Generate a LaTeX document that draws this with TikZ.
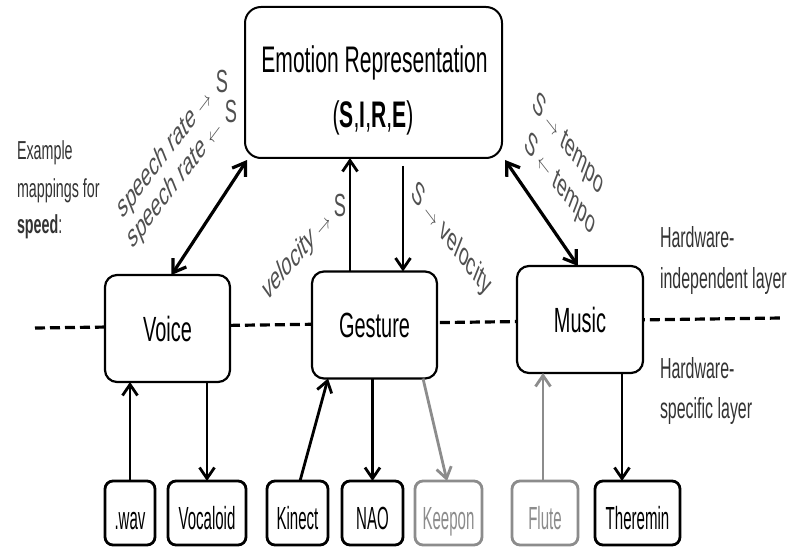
\documentclass[tikz,border=0pt]{standalone}
\usepackage{fontspec}
\setmainfont[FakeStretch=0.57]{Liberation Sans}
\newfontfamily\rotfont{Liberation Sans}
\newfontfamily\botfont[FakeStretch=0.47]{Liberation Sans}
\newfontfamily\notefont[FakeStretch=0.55]{Liberation Sans}
\usetikzlibrary{arrows.meta}
\definecolor{labgray}{HTML}{505050}
\definecolor{notegray}{HTML}{333333}
\definecolor{ghost}{HTML}{8C8C8C}
\newcommand\rar{{\fontsize{27}{27}\selectfont$\rightarrow$}}
\newcommand\lar{{\fontsize{27}{27}\selectfont$\leftarrow$}}
\tikzset{
  every node/.style={inner sep=0pt, outer sep=0pt},
  topbox/.style={draw, line width=2.2pt, rounded corners=12pt, fill=white,
     minimum width=125pt, minimum height=107pt, font=\fontsize{35}{40}\selectfont},
  hwbox/.style={draw, line width=2.8pt, rounded corners=8pt, fill=white,
     minimum height=64pt, text height=33pt, text depth=0pt,
     font=\botfont\fontsize{32}{36}\selectfont},
  faint/.style={draw=ghost, text=ghost},
  emotext/.style={anchor=base, font=\fontsize{37}{40}\selectfont},
  lab/.style={xscale=0.55, text=labgray, font=\rotfont\fontsize{32}{36}\selectfont},
  upS/.style={text=labgray, font=\fontsize{32}{36}\selectfont},
  note/.style={anchor=base west, text=notegray},
  arr/.style={line width=2.8pt, -{Straight Barb[length=11pt,width=15pt]}},
  darr/.style={line width=3.2pt, {Straight Barb[length=12pt,width=16pt]}-{Straight Barb[length=12pt,width=16pt]}},
  layer/.style={line width=3.2pt, dash pattern=on 10pt off 5pt},
}
\begin{document}
\begin{tikzpicture}[x=1pt, y=-1pt]
\useasboundingbox (0,0) rectangle (797,548);

% layer separator
\coordinate (dl) at (35,328);
\coordinate (dr) at (782,318);
\draw[layer] (dl) -- (dr);

% emotion representation
\node[draw, line width=2pt, rounded corners=16pt, fill=white,
      minimum width=257pt, minimum height=151pt] (emo) at (373.5,82.5) {};
\node[emotext] (emoA) at (374.5,73)  {Emotion Representation};
\node[emotext] (emoB) at (373,127.5) {(\textbf{S},\textbf{I},\textbf{R},\textbf{E})};

% hardware-independent layer
\node[topbox] (voice)   at (167.5,328.5) {Voice};
\node[topbox] (gesture) at (374.5,325)   {Gesture};
\node[topbox, minimum width=126pt] (music) at (580,319.5) {Music};

% hardware-specific layer
\node[hwbox, minimum width=50pt] (wav)      at (130,513)   {.wav};
\node[hwbox, minimum width=78pt] (vocaloid) at (207,513)   {Vocaloid};
\node[hwbox, minimum width=61pt] (kinect)   at (297.5,513) {Kinect};
\node[hwbox, minimum width=61pt] (nao)      at (372.5,513) {NAO};
\node[hwbox, faint, minimum width=67pt] (keepon) at (448.5,513) {Keepon};
\node[hwbox, faint, minimum width=66pt] (flute)  at (545,513)   {Flute};
\node[hwbox, minimum width=85pt] (theremin) at (637.5,513) {Theremin};

% emotion <-> modality arrows
\draw[darr] ([xshift=4pt]voice.north) -- ([shift={(2,2)}]emo.south west);
\draw[darr] ([shift={(3,2)}]emo.south east) -- ([xshift=-2pt]music.north);
\coordinate (gu) at ([xshift=-24.5pt]gesture.north);
\coordinate (gd) at ([xshift=28.5pt]gesture.north);
\draw[arr] (gu) -- (gu |- emo.south);
\draw[arr, shorten <=8pt] (gd |- emo.south) -- (gd);

% modality <-> hardware arrows
\draw[arr] (wav.north) -- (wav.north |- voice.south);
\draw[arr] (vocaloid.north |- voice.south) -- (vocaloid.north);
\draw[arr] ([xshift=2.5pt]kinect.north) -- ([xshift=-46.5pt]gesture.south);
\draw[arr] (nao.north |- gesture.south) -- (nao.north);
\draw[arr, ghost] ([xshift=48.5pt]gesture.south) -- ([xshift=-1.5pt]keepon.north);
\coordinate (fl) at ([xshift=-2pt]flute.north);
\draw[arr, ghost] (fl) -- (fl |- music.south);
\coordinate (th) at ([xshift=42pt]music.south);
\draw[arr] (th |- music.south) -- (th |- theremin.north);

% mapping labels
\node[lab, rotate=36] (sr1) at (165,154) {speech rate \rar};
\node[lab, rotate=36] (sr2) at (175,184) {speech rate \lar};
\node[upS] (s1) at (222,81)  {S};
\node[upS] (s2) at (231,111) {S};
\node[lab, rotate=33] (vl) at (297,256) {velocity \rar};
\node[upS] (s3) at (340,205) {S};
\node[lab, rotate=-36] (vr) at (451,240) {S \rar\ velocity};
\node[lab, rotate=-35] (t1) at (568,145) {S \rar\ tempo};
\node[lab, rotate=-35] (t2) at (560,185) {S \lar\ tempo};

% side notes
\node[note, font=\notefont\fontsize{26}{30}\selectfont] (ex1) at (17,160) {Example};
\node[note, font=\notefont\fontsize{26}{30}\selectfont] (ex2) at (17,197) {mappings for};
\node[note, font=\notefont\fontsize{26}{30}\selectfont] (ex3) at (17,233) {\textbf{speed}:};
\node[note, font=\notefont\fontsize{29}{33}\selectfont] (hw1) at (660,247) {Hardware-};
\node[note, font=\notefont\fontsize{29}{33}\selectfont] (hw2) at (660,288) {independent layer};
\node[note, font=\notefont\fontsize{29}{33}\selectfont] (hw3) at (660,378) {Hardware-};
\node[note, font=\notefont\fontsize{29}{33}\selectfont] (hw4) at (660,418) {specific layer};
\end{tikzpicture}
\end{document}
